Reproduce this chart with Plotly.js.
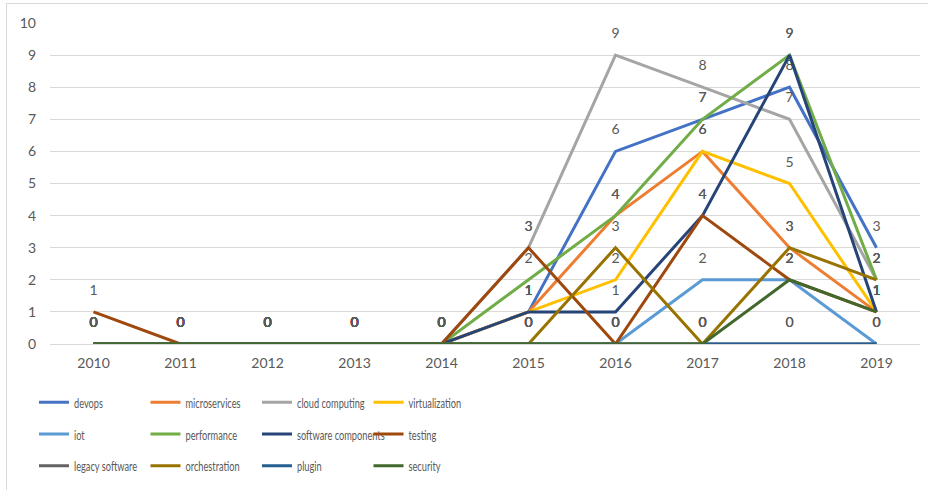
<!DOCTYPE html>
<html>
<head>
<meta charset="utf-8">
<script src="https://cdn.plot.ly/plotly-3.0.1.min.js"></script>
<style>
  html, body { margin: 0; padding: 0; background: #fff; }
  #frame { position: absolute; left: 6px; top: 3px; width: 940px; height: 500px;
           border-left: 1px solid #d9d9d9; border-top: 1px solid #d9d9d9; }
  #chart { position: absolute; left: 0; top: 0; width: 928px; height: 490px; }
  /* narrow legend type, as in the reference */
  #chart .infolayer g[class*="legend"] text,
  #chart text.legendtext { transform: scaleX(0.66); transform-box: fill-box; transform-origin: 0 50%; }
</style>
</head>
<body>
<div id="frame"></div>
<div id="chart"></div>
<script>
const years = ['2010','2011','2012','2013','2014','2015','2016','2017','2018','2019'];

const devops             = [0,0,0,0,0,1,6,7,8,3];
const microservices      = [0,0,0,0,0,1,4,6,3,1];
const cloudComputing     = [0,0,0,0,0,3,9,8,7,2];
const virtualization     = [0,0,0,0,0,1,2,6,5,1];
const iot                = [0,0,0,0,0,0,0,2,2,0];
const performance        = [0,0,0,0,0,2,4,7,9,2];
const softwareComponents = [0,0,0,0,0,1,1,4,9,1];
const testing            = [1,0,0,0,0,3,0,4,2,1];
const legacySoftware     = [0,0,0,0,0,0,0,0,0,0];
const orchestration      = [0,0,0,0,0,0,3,0,3,2];
const plugin             = [0,0,0,0,0,0,0,0,0,0];
const security           = [0,0,0,0,0,0,0,0,2,1];

const seriesNames = ['devops','microservices','cloud computing','virtualization',
                     'iot','performance','software components','testing',
                     'legacy software','orchestration','plugin','security'];
const seriesValues = [devops, microservices, cloudComputing, virtualization,
                      iot, performance, softwareComponents, testing,
                      legacySoftware, orchestration, plugin, security];
const colors = ['#4472C4','#ED7D31','#A5A5A5','#FFC000',
                '#5B9BD5','#70AD47','#264478','#9E480E',
                '#636363','#997300','#255E91','#43682B'];
const legendIds = ['legend','legend2','legend3'];

const FONT = 'Lato, Liberation Sans, Arial, sans-serif';

const traces = seriesNames.map((name, i) => ({
  type: 'scatter',
  mode: 'lines+markers+text',
  name: name,
  x: years,
  y: seriesValues[i],
  text: seriesValues[i].map(String),
  textposition: 'top center',
  textfont: { family: FONT, size: 14, color: '#595959' },
  line: { color: colors[i], width: 3 },
  marker: { size: 20, opacity: 0, color: 'rgba(0,0,0,0)', line: { width: 0 } },
  cliponaxis: false,
  hoverinfo: 'skip',
  legend: legendIds[Math.floor(i / 4)]
}));

const legendFont = { family: FONT, size: 14, color: '#595959' };
function mkLegend(yPaper) {
  return {
    orientation: 'h', x: -0.0184, xanchor: 'left', y: yPaper, yanchor: 'middle',
    font: legendFont, entrywidth: 66.5, entrywidthmode: 'pixels',
    itemwidth: 30, bgcolor: 'rgba(0,0,0,0)', borderwidth: 0, traceorder: 'normal'
  };
}

const layout = {
  width: 928, height: 490,
  margin: { l: 50, r: 8, t: 23, b: 144 },
  paper_bgcolor: 'rgba(0,0,0,0)', plot_bgcolor: 'rgba(0,0,0,0)',
  font: { family: FONT, size: 14, color: '#595959' },
  xaxis: {
    type: 'category', range: [-0.5, 9.5], showgrid: false, zeroline: false,
    showline: false, ticks: '', ticklabelstandoff: 9,
    tickfont: { family: FONT, size: 14, color: '#595959' }
  },
  yaxis: {
    range: [0, 10], dtick: 1, showgrid: true, gridcolor: '#d9d9d9', gridwidth: 1,
    zeroline: true, zerolinecolor: '#d9d9d9', zerolinewidth: 1,
    showline: false, ticks: '', ticklabelstandoff: 13,
    tickfont: { family: FONT, size: 14, color: '#595959' }
  },
  legend: mkLegend(-0.1827),
  legend2: mkLegend(-0.2817),
  legend3: mkLegend(-0.3808),
  showlegend: true
};

Plotly.newPlot('chart', traces, layout, { displayModeBar: false, staticPlot: true });
</script>
</body>
</html>
